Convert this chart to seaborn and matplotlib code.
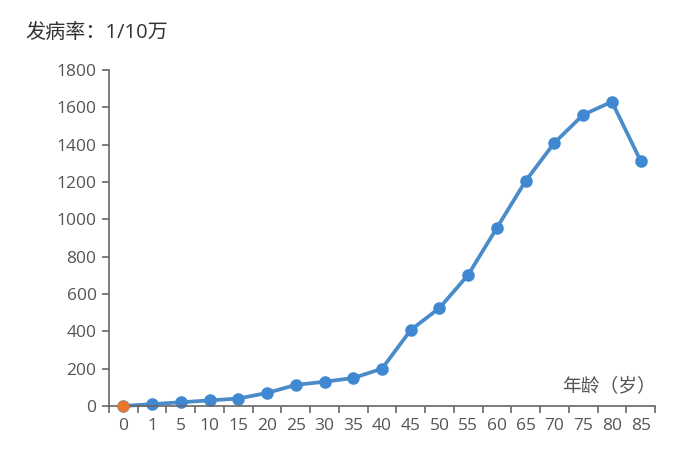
import pandas as pd
import matplotlib.pyplot as plt
import seaborn as sns
from matplotlib.ticker import FixedLocator

ages = ["0", "1", "5", "10", "15", "20", "25", "30", "35", "40",
        "45", "50", "55", "60", "65", "70", "75", "80", "85"]
rates = [0, 10, 20, 30, 40, 70, 113, 130, 150, 200,
         407, 525, 703, 955, 1206, 1410, 1560, 1630, 1313]

df = pd.DataFrame({"age": ages, "rate": rates})

sns.set_style("white")
plt.rcParams["font.family"] = ["Open Sans", "Noto Sans CJK SC", "DejaVu Sans"]

fig = plt.figure(figsize=(6.85, 4.59), dpi=100)
ax = fig.add_axes([109 / 685, 1 - 406 / 459, (655 - 109) / 685, (406 - 70) / 459])

sns.pointplot(x="age", y="rate", data=df, order=ages, color="#4a8bc9",
              markers="o", markersize=7, linewidth=2.7, ax=ax)
for l in ax.lines:
    l.set_clip_on(False)
    l.set_markerfacecolor("#4088d2")
    l.set_markeredgecolor("#4088d2")

# highlighted first point
ax.plot([0], [rates[0]], "o", color="#e8782a", markersize=7.5, clip_on=False, zorder=5)

ax.set_xlim(-0.5, len(ages) - 0.5)
ax.set_ylim(0, 1800)
ax.set_yticks(range(0, 1801, 200))

ax.xaxis.set_major_locator(FixedLocator(range(len(ages))))
ax.set_xticklabels(ages)
ax.xaxis.set_minor_locator(FixedLocator([i - 0.5 for i in range(len(ages) + 1)]))
ax.tick_params(axis="x", which="major", length=0, pad=9, labelsize=12.5, colors="#555555")
ax.tick_params(axis="x", which="minor", length=5, width=1.2, color="#666666", bottom=True)
ax.tick_params(axis="y", length=5, width=1.2, color="#666666", pad=4,
               labelsize=12.5, labelcolor="#555555", left=True)

for side in ["top", "right"]:
    ax.spines[side].set_visible(False)
for side in ["left", "bottom"]:
    ax.spines[side].set_color("#666666")
    ax.spines[side].set_linewidth(1.2)

ax.set_xlabel("")
ax.set_ylabel("")
fig.text(25 / 685, 1 - 33 / 459, "发病率：1/10万", fontsize=14.5, color="#333333",
         ha="left", va="center")
fig.text(656 / 685, 1 - 386 / 459, "年龄（岁）", fontsize=13.5, color="#555555",
         ha="right", va="center")

fig.savefig("out.png", dpi=100, facecolor="white")
